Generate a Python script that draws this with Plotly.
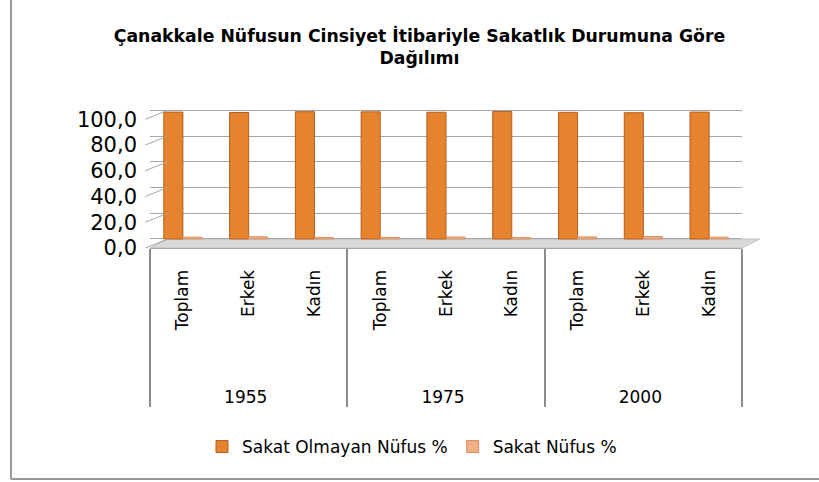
import plotly.graph_objects as go

# ---- data ----
years = ["1955", "1975", "2000"]
groups = ["Toplam", "Erkek", "Kadın"]
sakat_olmayan = [98.6, 98.3, 98.9, 98.8, 98.5, 99.0, 98.4, 98.1, 98.6]
sakat = [1.4, 1.7, 1.1, 1.2, 1.5, 1.0, 1.6, 1.9, 1.4]
series_names = ["Sakat Olmayan Nüfus %", "Sakat Nüfus %"]
y_ticks = [0, 20, 40, 60, 80, 100]
title_text = "Çanakkale Nüfusun Cinsiyet İtibariyle Sakatlık Durumuna Göre<br>Dağılımı"

PAD = "\u00a0" * 10  # visual padding so the year row sits lower, as in the original
x_outer = [y for y in years for _ in groups]
x_inner = [PAD + g for _ in years for g in groups]

W, H = 819, 482
L, R, T, B = 150, 77, 109, 234
pw, ph = W - L - R, H - T - B
Y0, Y1 = -7, 101

FONT = "DejaVu Sans"

fig = go.Figure()
fig.add_trace(go.Bar(
    x=[x_outer, x_inner], y=sakat_olmayan, name=series_names[0],
    marker=dict(color="#E5832F", line=dict(color="#B55E1C", width=1)),
))
fig.add_trace(go.Bar(
    x=[x_outer, x_inner], y=sakat, name=series_names[1],
    marker=dict(color="#F2B088", line=dict(color="#D98E60", width=1)),
))

shapes = []
# floor (3D-like plate)
shapes.append(dict(type="path", xref="paper", yref="y",
                   path="M 0,-7 L 1,-7 L 1.03,0 L 0.03,0 Z",
                   fillcolor="#D9D9D9", line=dict(color="#BFBFBF", width=1), layer="below"))
# left-wall diagonal tick lines
for v in y_ticks:
    shapes.append(dict(type="line", xref="paper", yref="y",
                       x0=-0.008, y0=v - 7, x1=0.03, y1=v,
                       line=dict(color="#A6A6A6", width=1)))
# chart border (left and bottom)
bx = (11 - L) / pw
by = (H - B - 479) / ph
shapes.append(dict(type="line", xref="paper", yref="paper", x0=bx, x1=bx, y0=by, y1=(H - B) / ph + 0.1,
                   line=dict(color="#9A9A9A", width=2)))
shapes.append(dict(type="line", xref="paper", yref="paper", x0=bx, x1=(W - L) / pw + 0.1, y0=by, y1=by,
                   line=dict(color="#9A9A9A", width=2)))

fig.update_layout(
    width=W, height=H,
    margin=dict(l=L, r=R, t=T, b=B),
    paper_bgcolor="white", plot_bgcolor="white",
    separators=",.",
    barmode="group", bargap=0.42, bargroupgap=0.0,
    font=dict(family=FONT, color="#000000"),
    title=dict(text="<b>" + title_text + "</b>", x=419.5 / W, xanchor="center",
               yref="container", y=1 - 42 / H, yanchor="middle",
               font=dict(family=FONT, size=17.3, color="#000000")),
    xaxis=dict(type="multicategory", tickangle=-90, showdividers=True,
               dividercolor="#8C8C8C", dividerwidth=2, automargin=False,
               showline=True, linecolor="#A6A6A6", linewidth=1,
               showgrid=False, ticks="", ticklabelstandoff=14,
               tickfont=dict(family=FONT, size=17, color="#000000")),
    yaxis=dict(range=[Y0, Y1], tickvals=y_ticks, tickformat=".1f", automargin=False,
               showgrid=True, gridcolor="#A6A6A6", gridwidth=1,
               zeroline=False, showline=False, ticks="",
               ticklabelshift=9, ticklabelstandoff=12,
               tickfont=dict(family=FONT, size=21, color="#000000")),
    legend=dict(orientation="h", x=412 / W, xanchor="center", xref="container",
                yref="container", y=1 - 447 / H, yanchor="middle",
                font=dict(family=FONT, size=17, color="#000000"),
                itemwidth=30, traceorder="normal"),
    shapes=shapes,
    showlegend=True,
)

fig.write_html("out.html", config={"displayModeBar": False},
               post_script="document.body.style.margin='0';")
